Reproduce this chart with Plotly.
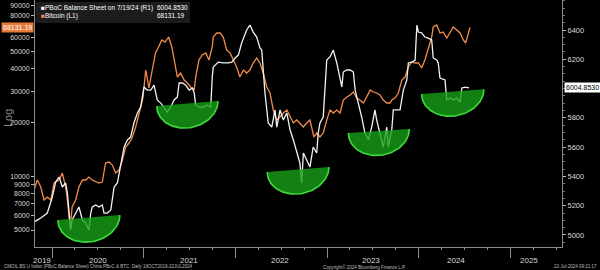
import numpy as np
import pandas as pd
import plotly.graph_objects as go

# ---------------- data ----------------
btc_dates = [
    "2019-10-21", "2019-11-03", "2019-11-17", "2019-11-30", "2019-12-13", "2019-12-27",
    "2020-01-09", "2020-01-29", "2020-02-11", "2020-02-24", "2020-03-02", "2020-03-13",
    "2020-03-21", "2020-04-04", "2020-04-17", "2020-05-01", "2020-05-14", "2020-05-27",
    "2020-06-09", "2020-06-23", "2020-07-06", "2020-07-19", "2020-08-01", "2020-08-15",
    "2020-08-28", "2020-09-10", "2020-09-24", "2020-10-07", "2020-10-20", "2020-11-03",
    "2020-11-16", "2020-11-29", "2020-12-13", "2020-12-19", "2020-12-28", "2021-01-08",
    "2021-01-14", "2021-01-21", "2021-02-03", "2021-02-16", "2021-02-28", "2021-03-13",
    "2021-03-26", "2021-04-09", "2021-04-22", "2021-05-05", "2021-05-14", "2021-05-27",
    "2021-06-10", "2021-06-23", "2021-07-06", "2021-07-20", "2021-07-26", "2021-08-08",
    "2021-08-21", "2021-09-04", "2021-09-17", "2021-09-30", "2021-10-04", "2021-10-18",
    "2021-10-31", "2021-11-13", "2021-11-26", "2021-12-10", "2021-12-23", "2022-01-05",
    "2022-01-18", "2022-02-01", "2022-02-14", "2022-02-27", "2022-03-12", "2022-03-26",
    "2022-04-08", "2022-04-21", "2022-05-05", "2022-05-18", "2022-05-31", "2022-06-14",
    "2022-06-27", "2022-07-10", "2022-07-24", "2022-08-06", "2022-08-19", "2022-09-01",
    "2022-09-14", "2022-09-28", "2022-10-11", "2022-10-24", "2022-11-09", "2022-11-20",
    "2022-12-03", "2022-12-16", "2022-12-30", "2023-01-12", "2023-01-25", "2023-02-08",
    "2023-02-21", "2023-03-06", "2023-03-20", "2023-04-02", "2023-04-15", "2023-04-28",
    "2023-05-11", "2023-05-25", "2023-06-07", "2023-06-21", "2023-07-04", "2023-07-17",
    "2023-07-30", "2023-08-12", "2023-08-26", "2023-09-08", "2023-09-15", "2023-09-28",
    "2023-10-11", "2023-10-25", "2023-11-07", "2023-11-20", "2023-12-04", "2023-12-17",
    "2023-12-30", "2024-01-12", "2024-01-25", "2024-02-07", "2024-02-14", "2024-02-21",
    "2024-02-27", "2024-03-12", "2024-03-25", "2024-04-07", "2024-04-21", "2024-05-04",
    "2024-05-17", "2024-05-31", "2024-06-13", "2024-06-26", "2024-07-05", "2024-07-12",
    "2024-07-22",
]
btc_values = [
    8380, 9530, 8710, 7365, 7655, 7365,
    9170, 9530, 10430, 8710, 7365, 5150,
    6730, 7365, 8710, 9530, 9530, 9906,
    9530, 9290, 9170, 9290, 11870, 12020,
    11565, 10430, 10840, 12340, 14590, 15360,
    16600, 18880, 22620, 23510, 27450, 39390,
    34620, 31230, 39390, 49060, 53000, 58000,
    56510, 60290, 53000, 43110, 35970, 37880,
    34620, 33300, 31630, 30430, 35970, 44810,
    47800, 49060, 44810, 53000, 60290, 63480,
    63480, 60290, 50980, 49060, 44810, 40950,
    35970, 39390, 37880, 39390, 43110, 45980,
    43110, 37880, 31630, 29280, 23510, 20670,
    21480, 22620, 23510, 21480, 19880, 20670,
    19880, 18880, 19880, 20670, 16600, 17470,
    16600, 17470, 20670, 23510, 22620, 23510,
    22620, 26750, 27800, 28530, 29660, 27450,
    26750, 25730, 27800, 30450, 29660, 29280,
    28530, 26750, 25730, 25730, 26750, 27450,
    29280, 34620, 35970, 40950, 43680, 43110,
    43110, 40420, 44810, 50980, 55800, 60290,
    68600, 70400, 63480, 64300, 59520, 64300,
    68600, 65990, 63480, 58000, 55800, 60290,
    68131.19,
]

pboc_dates = [
    "2019-10-21", "2019-11-17", "2019-12-13", "2020-01-02", "2020-01-15", "2020-01-29",
    "2020-02-11", "2020-02-24", "2020-03-02", "2020-03-08", "2020-03-15", "2020-03-21",
    "2020-04-04", "2020-04-17", "2020-05-01", "2020-05-14", "2020-05-27", "2020-06-03",
    "2020-06-09", "2020-06-23", "2020-07-06", "2020-07-19", "2020-07-26", "2020-08-08",
    "2020-08-22", "2020-09-04", "2020-09-17", "2020-09-24", "2020-10-03", "2020-10-14",
    "2020-10-27", "2020-11-09", "2020-11-22", "2020-12-06", "2020-12-19", "2021-01-01",
    "2021-01-14", "2021-01-28", "2021-02-10", "2021-02-23", "2021-03-09", "2021-03-22",
    "2021-04-04", "2021-04-18", "2021-05-01", "2021-05-14", "2021-05-21", "2021-06-03",
    "2021-06-16", "2021-06-30", "2021-07-13", "2021-07-20", "2021-07-26", "2021-08-08",
    "2021-08-28", "2021-09-10", "2021-09-24", "2021-09-30", "2021-10-04", "2021-10-24",
    "2021-11-13", "2021-12-03", "2021-12-17", "2021-12-30", "2022-01-12", "2022-01-25",
    "2022-02-01", "2022-02-14", "2022-02-27", "2022-03-12", "2022-03-26", "2022-04-08",
    "2022-04-15", "2022-04-21", "2022-04-28", "2022-05-11", "2022-05-25", "2022-06-07",
    "2022-06-14", "2022-06-27", "2022-07-10", "2022-07-24", "2022-08-06", "2022-08-19",
    "2022-09-01", "2022-09-14", "2022-09-21", "2022-09-28", "2022-10-11", "2022-10-24",
    "2022-11-06", "2022-11-20", "2022-11-26", "2022-12-03", "2022-12-16", "2022-12-30",
    "2023-01-12", "2023-01-25", "2023-02-08", "2023-02-21", "2023-02-28", "2023-03-06",
    "2023-03-20", "2023-04-02", "2023-04-15", "2023-04-22", "2023-05-05", "2023-05-18",
    "2023-05-31", "2023-06-14", "2023-06-27", "2023-07-10", "2023-07-17", "2023-07-30",
    "2023-08-12", "2023-08-26", "2023-09-01", "2023-09-15", "2023-09-21", "2023-10-18",
    "2023-10-25", "2023-10-31", "2023-11-14", "2023-11-20", "2023-12-04", "2023-12-17",
    "2023-12-24", "2023-12-30", "2024-01-12", "2024-01-25", "2024-02-07", "2024-02-21",
    "2024-02-27", "2024-03-12", "2024-03-18", "2024-03-25", "2024-04-14", "2024-04-21",
    "2024-05-04", "2024-05-17", "2024-05-31", "2024-06-13", "2024-06-20", "2024-07-03",
    "2024-07-19",
]
pboc_values = [
    5089, 5116, 5150, 5259, 5362, 5396,
    5328, 5355, 5287, 5171, 5034, 5102,
    5150, 5191, 5102, 5082, 5034, 5150,
    5191, 5205, 5191, 5205, 5150, 5150,
    5171, 5328, 5355, 5423, 5512, 5601,
    5649, 5669, 5765, 5833, 5874, 6011,
    5990, 5990, 6024, 5922, 5901, 5874,
    5840, 5874, 5922, 5942, 6038, 6038,
    6024, 5990, 6004, 5970, 5888, 5874,
    5874, 5888, 5874, 6079, 6147, 6181,
    6175, 6175, 6181, 6209, 6229, 6311,
    6345, 6400, 6434, 6386, 6352, 6277,
    6263, 6127, 5970, 5765, 5737, 5854,
    5737, 5854, 5785, 5833, 5717, 5649,
    5560, 5492, 5355, 5560, 5512, 5464,
    5601, 5560, 5697, 5765, 5806, 6195,
    6216, 6263, 6175, 6079, 6011, 6113,
    6127, 6127, 6113, 5990, 5901, 5806,
    5697, 5649, 5737, 5854, 5785, 5697,
    5601, 5737, 5601, 5717, 5854, 5854,
    5942, 5990, 6059, 6175, 6181, 6195,
    6434, 6386, 6380, 6352, 6345, 6332,
    6209, 6195, 6175, 6072, 6059, 5922,
    5936, 5922, 5936, 5908, 6004, 6010,
    6004.853,
]

# left-axis (log) tick labels
btc_ticks = [5000, 6000, 7000, 8000, 9000, 10000, 20000, 30000, 40000, 50000, 60000, 80000, 90000]
# right-axis tick labels
pboc_ticks = [5000, 5200, 5400, 5600, 5800, 6200, 6400]
# year boundaries and year labels
year_starts = ["2020-01-01", "2021-01-01", "2022-01-01", "2023-01-01", "2024-01-01", "2025-01-01"]
year_labels = ["2019", "2020", "2021", "2022", "2023", "2024", "2025"]
year_label_dates = ["2019-11-23", "2020-07-02", "2021-06-30", "2022-06-27", "2023-06-25", "2024-05-29", "2025-03-15"]

# highlighted "bowls" (on the right axis): left date, right date, left value, right value, depth
bowl_left = ["2020-01-24", "2021-02-21", "2022-05-07", "2023-03-26", "2024-01-12"]
bowl_right = ["2020-09-27", "2021-10-23", "2023-01-08", "2023-11-24", "2024-09-16"]
bowl_yl = [5102, 5881, 5430, 5697, 5963]
bowl_yr = [5136, 5915, 5464, 5724, 5995]
bowl_depth = [167, 167, 167, 167, 167]

last_btc = "68131.19"
last_pboc = "6004.8530"

# ---------------- figure ----------------
W, H = 600, 270
def px(x):
    return x / W
def py(y):
    return 1 - y / H

ORANGE = "#f28b4b"
WHITE = "#f2f2f2"
AXIS = "#8c8c8c"
TXT = "#d9d9d9"
FONT = "Liberation Sans, Arial, sans-serif"

fig = go.Figure()
fig.add_trace(go.Scatter(x=btc_dates, y=btc_values, mode="lines", yaxis="y",
                         line=dict(color=ORANGE, width=1.3), hoverinfo="skip", showlegend=False))
fig.add_trace(go.Scatter(x=pboc_dates, y=pboc_values, mode="lines", yaxis="y2",
                         line=dict(color=WHITE, width=1.3), hoverinfo="skip", showlegend=False))

t = np.linspace(0, np.pi, 60)
f = (1 - np.cos(t)) / 2
for l, r, yl, yr, dp in zip(bowl_left, bowl_right, bowl_yl, bowl_yr, bowl_depth):
    a = pd.Timestamp(l).value
    b = pd.Timestamp(r).value
    xs = pd.to_datetime(a + (b - a) * f)
    ys = yl + (yr - yl) * f - dp * np.sin(t)
    fig.add_trace(go.Scatter(x=xs, y=ys, yaxis="y2", mode="lines", fill="toself",
                             fillcolor="rgba(24,160,24,0.80)", line=dict(width=0),
                             hoverinfo="skip", showlegend=False))
    fig.add_trace(go.Scatter(x=xs, y=ys, yaxis="y2", mode="lines",
                             line=dict(color="#3ddc3d", width=1.6),
                             hoverinfo="skip", showlegend=False))

annotations = []
# year labels
for d, lab in zip(year_label_dates, year_labels):
    annotations.append(dict(x=d, xref="x", y=py(260), yref="paper", text=lab, showarrow=False,
                            font=dict(color=TXT, size=8, family=FONT), xanchor="center", yanchor="middle"))
# legend box content
annotations += [
    dict(x=px(38.5), y=py(7.5), xref="paper", yref="paper", text="■", showarrow=False,
         font=dict(color="#ffffff", size=6.5, family=FONT), xanchor="left", yanchor="middle"),
    dict(x=px(43), y=py(7.5), xref="paper", yref="paper", text="PBoC Balance Sheet on 7/19/24 (R1)",
         showarrow=False, font=dict(color="#ffffff", size=6.5, family=FONT), xanchor="left", yanchor="middle"),
    dict(x=px(155), y=py(7.5), xref="paper", yref="paper", text=last_pboc,
         showarrow=False, font=dict(color="#ffffff", size=6.5, family=FONT), xanchor="left", yanchor="middle"),
    dict(x=px(38.5), y=py(16), xref="paper", yref="paper", text="■", showarrow=False,
         font=dict(color=ORANGE, size=6.5, family=FONT), xanchor="left", yanchor="middle"),
    dict(x=px(43), y=py(16), xref="paper", yref="paper", text="Bitcoin (L1)",
         showarrow=False, font=dict(color="#ffffff", size=6.5, family=FONT), xanchor="left", yanchor="middle"),
    dict(x=px(155), y=py(16), xref="paper", yref="paper", text=last_btc,
         showarrow=False, font=dict(color="#ffffff", size=6.5, family=FONT), xanchor="left", yanchor="middle"),
]
# last value tags on the axes
annotations += [
    dict(x=px(34), xref="paper", y=np.log10(btc_values[-1]), yref="y", text=last_btc, showarrow=False,
         bgcolor="#e8793a", font=dict(color="#ffffff", size=7, family=FONT), xanchor="right",
         yanchor="middle", borderpad=1),
    dict(x=px(564), xref="paper", y=pboc_values[-1], yref="y2", text=last_pboc, showarrow=False,
         bgcolor="#ffffff", font=dict(color="#000000", size=7, family=FONT), xanchor="left",
         yanchor="middle", borderpad=1),
]
# axis title and footer
annotations += [
    dict(x=px(8), y=py(118), xref="paper", yref="paper", text="Log", textangle=-90, showarrow=False,
         font=dict(color="#8a8a8a", size=11, family=FONT), xanchor="center", yanchor="middle"),
    dict(x=px(2), y=py(266.5), xref="paper", yref="paper",
         text="CMOIL.BS U Index (PBoC Balance Sheet) China PBoC &amp; BTC  Daily 18OCT2019-22JUL2024",
         showarrow=False, font=dict(color="#bdbdbd", size=4.5, family=FONT), xanchor="left", yanchor="middle"),
    dict(x=px(365), y=py(266.5), xref="paper", yref="paper", text="Copyright© 2024 Bloomberg Finance L.P.",
         showarrow=False, font=dict(color="#bdbdbd", size=4.5, family=FONT), xanchor="center", yanchor="middle"),
    dict(x=px(599), y=py(266.5), xref="paper", yref="paper", text="22-Jul-2024 09:21:17",
         showarrow=False, font=dict(color="#bdbdbd", size=4.5, family=FONT), xanchor="right", yanchor="middle"),
]

shapes = [
    dict(type="rect", xref="paper", yref="paper", x0=px(35.5), x1=px(190), y0=py(23), y1=py(2),
         fillcolor="#1c1c1c", line=dict(width=0), layer="above"),
]

fig.update_layout(
    width=W, height=H, autosize=False,
    margin=dict(l=0, r=0, t=0, b=0),
    paper_bgcolor="#000000", plot_bgcolor="#000000",
    showlegend=False,
    xaxis=dict(domain=[px(35), px(562)], type="date", range=["2019-10-25", "2025-07-24"],
               showgrid=False, zeroline=False, showline=True, linecolor=AXIS, linewidth=1,
               tickmode="array", tickvals=year_starts, ticktext=[""] * len(year_starts),
               ticks="outside", ticklen=10, tickcolor=AXIS, tickwidth=1,
               minor=dict(ticks="outside", ticklen=2, dtick="M3", tick0="2020-01-01",
                          tickcolor=AXIS, showgrid=False)),
    yaxis=dict(domain=[py(247), 1], type="log", range=[np.log10(4017), np.log10(97170)],
               tickmode="array", tickvals=btc_ticks, ticktext=[str(v) for v in btc_ticks],
               ticks="outside", ticklen=3, tickcolor="#bbbbbb",
               tickfont=dict(color=TXT, size=7, family=FONT),
               showline=True, linecolor=AXIS, linewidth=1, showgrid=False, zeroline=False),
    yaxis2=dict(overlaying="y", side="right", anchor="x", range=[4918, 6605],
                tickmode="array", tickvals=pboc_ticks, ticktext=[str(v) for v in pboc_ticks],
                ticks="outside", ticklen=3, tickcolor="#bbbbbb",
                tickfont=dict(color=TXT, size=7.5, family=FONT),
                minor=dict(ticks="outside", ticklen=2, dtick=50, tickcolor="#777777", showgrid=False),
                showline=True, linecolor=AXIS, linewidth=1, showgrid=False, zeroline=False),
    annotations=annotations,
    shapes=shapes,
)

fig.write_html("out.html")
